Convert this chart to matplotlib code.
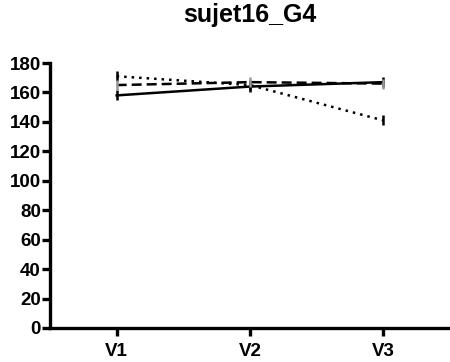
import matplotlib
matplotlib.use("Agg")
import matplotlib.pyplot as plt

visits = ["V1", "V2", "V3"]
solid_vals = [158, 164, 167]
dotted_vals = [171, 165, 141]
dashed_vals = [165, 167, 166]
yticks = [0, 20, 40, 60, 80, 100, 120, 140, 160, 180]

plt.rcParams['font.family'] = ['Liberation Sans', 'DejaVu Sans']
fig = plt.figure(figsize=(4.5, 3.62), dpi=100)
ax = fig.add_axes([50/450, 34/362, 1 - 50/450, (328-63)/362])

x = [1, 2, 3]
ax.plot(x, solid_vals, color='black', lw=1.8, ls='-', marker='|', ms=7, mew=1.8, mec='black')
ax.plot(x, dotted_vals, color='black', lw=1.8, ls=(0, (1, 2)), marker='|', ms=7, mew=1.8, mec='black')
ax.plot(x, dashed_vals, color='black', lw=1.8, ls=(0, (4, 2)), marker='|', ms=7, mew=1.8, mec='#999999')

ax.set_xlim(0.5, 3.5)
ax.set_ylim(0, 180)
ax.set_yticks(yticks)
ax.set_xticks(x)
ax.set_xticklabels(visits)
for s in ['top', 'right']:
    ax.spines[s].set_visible(False)
for s in ['left', 'bottom']:
    ax.spines[s].set_linewidth(2.4)
ax.tick_params(axis='y', width=2.4, length=6, labelsize=13.5, pad=0.5)
ax.tick_params(axis='x', width=2.4, length=6, labelsize=13.5, pad=5)
for lab in ax.get_xticklabels() + ax.get_yticklabels():
    lab.set_fontweight('bold')
fig.text(0.5 + 25/450, 1 - 15/362, "sujet16_G4", fontsize=18, fontweight='bold',
         ha='center', va='center')
fig.savefig("out.png", dpi=100)
